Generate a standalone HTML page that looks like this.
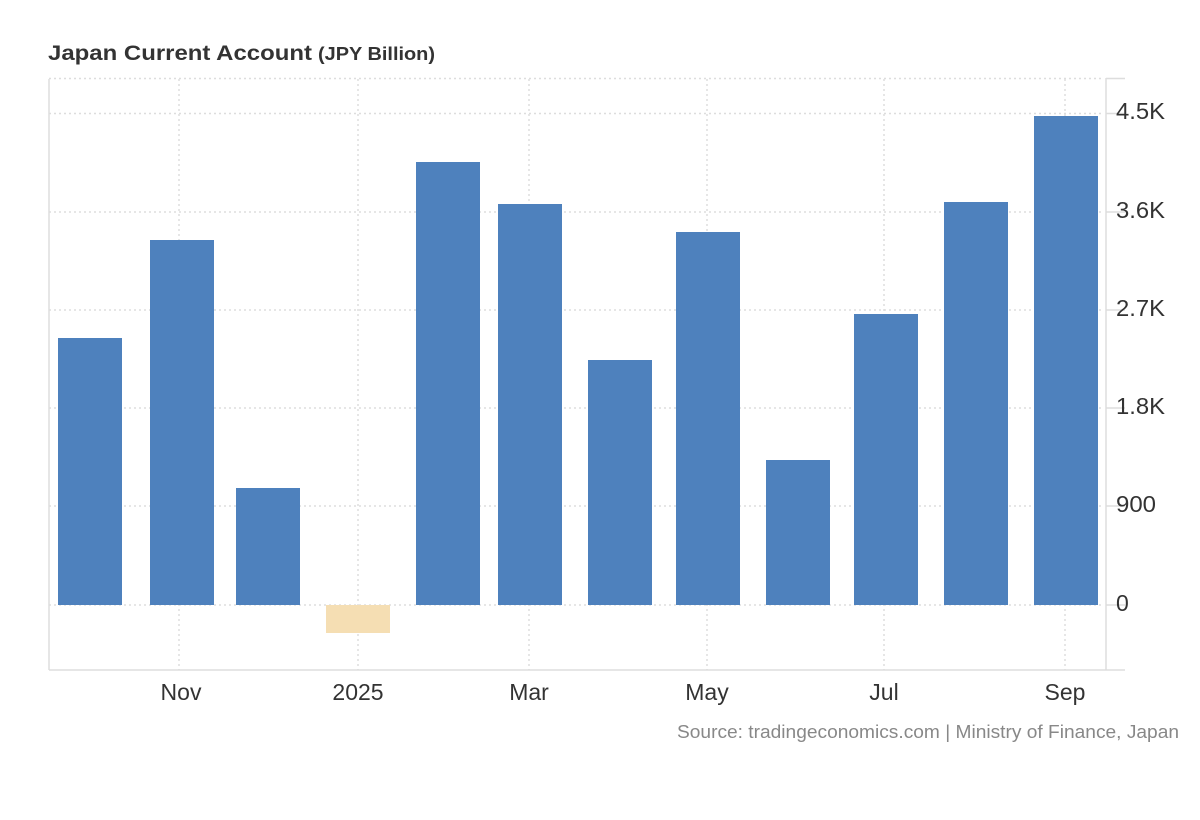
<!DOCTYPE html>
<html><head><style>
body{margin:0;background:#fff;}
svg{display:block;font-family:"Liberation Sans",Arial,sans-serif;}
</style></head><body>
<svg width="1200" height="820" xmlns="http://www.w3.org/2000/svg">
<text x="48" y="60" font-size="21" font-weight="bold" fill="#333" textLength="264" lengthAdjust="spacingAndGlyphs">Japan Current Account</text>
<text x="318" y="60" font-size="18" font-weight="bold" fill="#333" textLength="117" lengthAdjust="spacingAndGlyphs">(JPY Billion)</text>
<g stroke="#ddd" stroke-width="1.5" stroke-dasharray="2,3" fill="none">
<line x1="49" y1="78.5" x2="1104" y2="78.5"/>
<line x1="49" y1="113.5" x2="1104" y2="113.5"/>
<line x1="49" y1="212" x2="1104" y2="212"/>
<line x1="49" y1="310" x2="1104" y2="310"/>
<line x1="49" y1="408" x2="1104" y2="408"/>
<line x1="49" y1="506" x2="1104" y2="506"/>
<line x1="49" y1="605" x2="1104" y2="605"/>
<line x1="179" y1="79" x2="179" y2="670"/>
<line x1="358" y1="79" x2="358" y2="670"/>
<line x1="529" y1="79" x2="529" y2="670"/>
<line x1="707" y1="79" x2="707" y2="670"/>
<line x1="884" y1="79" x2="884" y2="670"/>
<line x1="1065" y1="79" x2="1065" y2="670"/>
</g>
<g stroke="#ddd" stroke-width="1.5">
<line x1="49" y1="79" x2="49" y2="670"/>
<line x1="49" y1="670" x2="1106" y2="670"/>
<line x1="1106" y1="78" x2="1106" y2="670"/>
<line x1="1106" y1="78.5" x2="1125" y2="78.5"/>
<line x1="1106" y1="113.5" x2="1125" y2="113.5"/>
<line x1="1106" y1="212" x2="1125" y2="212"/>
<line x1="1106" y1="310" x2="1125" y2="310"/>
<line x1="1106" y1="408" x2="1125" y2="408"/>
<line x1="1106" y1="506" x2="1125" y2="506"/>
<line x1="1106" y1="605" x2="1125" y2="605"/>
<line x1="1106" y1="670" x2="1125" y2="670"/>
</g>
<g fill="#4e81bd">
<rect x="58" y="338" width="64" height="267"/>
<rect x="150" y="240" width="64" height="365"/>
<rect x="236" y="488" width="64" height="117"/>
<rect x="416" y="162" width="64" height="443"/>
<rect x="498" y="204" width="64" height="401"/>
<rect x="588" y="360" width="64" height="245"/>
<rect x="676" y="232" width="64" height="373"/>
<rect x="766" y="460" width="64" height="145"/>
<rect x="854" y="314" width="64" height="291"/>
<rect x="944" y="202" width="64" height="403"/>
<rect x="1034" y="116" width="64" height="489"/>
</g>
<rect x="326" y="605" width="64" height="28" fill="#f5deb3"/>
<g font-size="23" fill="#333">
<text x="1116" y="119" textLength="49" lengthAdjust="spacingAndGlyphs">4.5K</text>
<text x="1116" y="218" textLength="49" lengthAdjust="spacingAndGlyphs">3.6K</text>
<text x="1116" y="316" textLength="49" lengthAdjust="spacingAndGlyphs">2.7K</text>
<text x="1116" y="414" textLength="49" lengthAdjust="spacingAndGlyphs">1.8K</text>
<text x="1116" y="512" textLength="40" lengthAdjust="spacingAndGlyphs">900</text>
<text x="1116" y="611">0</text>
</g>
<g font-size="23" fill="#333" text-anchor="middle">
<text x="181" y="700">Nov</text>
<text x="358" y="700">2025</text>
<text x="529" y="700">Mar</text>
<text x="707" y="700">May</text>
<text x="884" y="700">Jul</text>
<text x="1065" y="700">Sep</text>
</g>
<text x="677" y="738" font-size="18" fill="#888" textLength="502" lengthAdjust="spacingAndGlyphs">Source: tradingeconomics.com | Ministry of Finance, Japan</text>
</svg>
</body></html>
